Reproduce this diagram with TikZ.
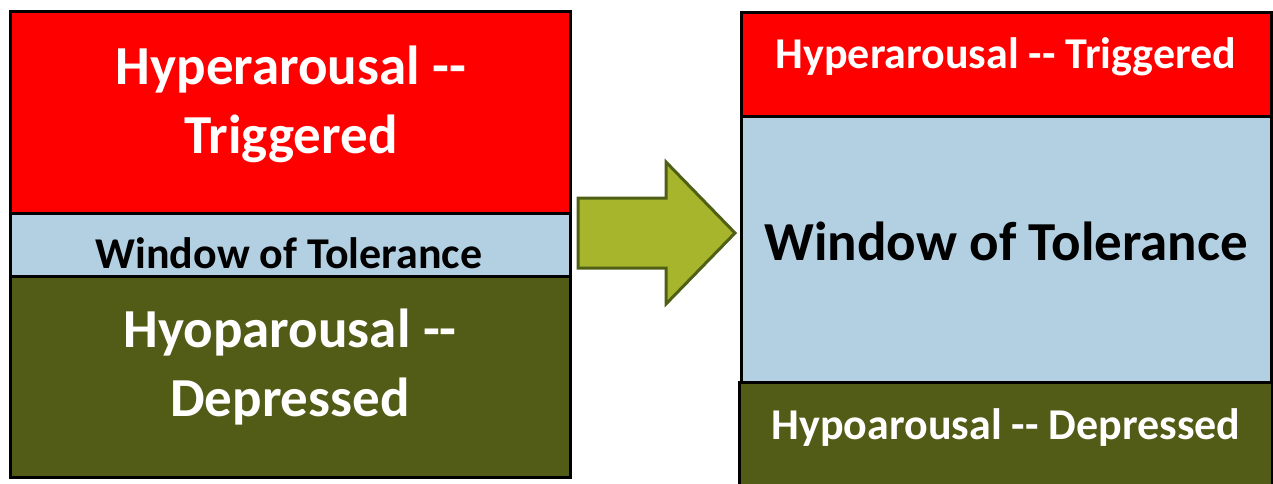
\documentclass[tikz,border=0pt]{standalone}
\usepackage{fontspec}
\setmainfont{Carlito}
\definecolor{hyper}{HTML}{FF0000}
\definecolor{wot}{HTML}{B3D0E2}
\definecolor{hypo}{HTML}{535C16}
\definecolor{arrowfill}{HTML}{A6B52B}
\definecolor{arrowline}{HTML}{4F6016}
\newcommand{\dd}{-\kern0pt-}
\begin{document}
\begin{tikzpicture}[x=1pt,y=-1pt,
  band/.style={draw=black,line width=3pt},
  lbl/.style={font=\bfseries,inner sep=0pt,align=center,anchor=center}]
\useasboundingbox (0,0) rectangle (1273,484);
\clip (0,0) rectangle (1273,484);
% left stack
\path[band,fill=hyper] (10,12) rectangle (570,213);
\path[band,fill=wot] (10,213) rectangle (570,276);
\path[band,fill=hypo] (10,276) rectangle (570,477);
\node[lbl,text=white,font=\bfseries\fontsize{55}{69}\selectfont] (lhyper) at (291,104) {Hyperarousal \dd\\Triggered};
\node[lbl,text=black,font=\bfseries\fontsize{44}{50}\selectfont] (lwot) at (289,253) {Window of Tolerance};
\node[lbl,text=white,font=\bfseries\fontsize{55}{69}\selectfont] (lhypo) at (290,367) {Hyoparousal \dd\\Depressed};
% arrow
\draw[line width=3pt,draw=arrowline,fill=arrowfill,line join=miter]
  (578,198) -- (666,198) -- (666,162) -- (735,233) -- (666,304) -- (666,268) -- (578,268) -- cycle;
% right stack
\path[band,fill=hyper] (741,13) rectangle (1271,117);
\path[band,fill=wot] (741,117) rectangle (1271,382);
\path[band,fill=hypo] (739,382) rectangle (1272,500);
\node[lbl,text=white,font=\bfseries\fontsize{44}{50}\selectfont] (rhyper) at (1006,57) {Hyperarousal \dd{} Triggered};
\node[lbl,text=black,font=\bfseries\fontsize{55}{66}\selectfont] (rwot) at (1006,241) {Window of Tolerance};
\node[lbl,text=white,font=\bfseries\fontsize{44}{50}\selectfont] (rhypo) at (1006,428) {Hypoarousal \dd{} Depressed};
\end{tikzpicture}
\end{document}
